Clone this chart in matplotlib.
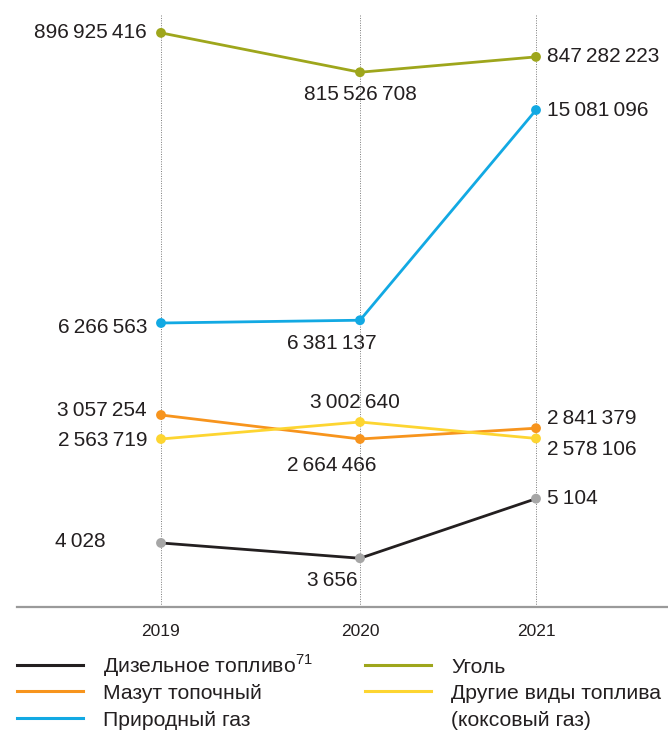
import matplotlib
matplotlib.use('Agg')
import matplotlib.pyplot as plt
import numpy as np

plt.rcParams['font.family'] = ['Liberation Sans', 'DejaVu Sans']
plt.rcParams['mathtext.fontset'] = 'custom'
plt.rcParams['mathtext.rm'] = 'Liberation Sans'

# Data: fuel consumption by type
years = ['2019', '2020', '2021']
coal = [896925416, 815526708, 847282223]
natural_gas = [6266563, 6381137, 15081096]
fuel_oil = [3057254, 2664466, 2841379]
other_fuel = [2563719, 3002640, 2578106]
diesel = [4028, 3656, 5104]

label_coal = ['Уголь']
label_gas = ['Природный газ']
label_oil = ['Мазут топочный']
label_other = ['Другие виды топлива', '(коксовый газ)']
label_diesel = ['Дизельное топливо$^{71}$']

# Canvas works in pixels, each series gets its own vertical band
W, H = 668, 732
col_x = np.array([161, 360, 536])

fig = plt.figure(figsize=(W / 100, H / 100), dpi=100)
ax = fig.add_axes([0, 0, 1, 1])
ax.set_xlim(0, W)
ax.set_ylim(H, 0)
ax.axis('off')


def band(values, ref_px, ref_val, px_per_unit):
    v = np.asarray(values, dtype=float)
    return ref_px - (v - ref_val) * px_per_unit


# series: values, colour, marker colour, band params, label offsets (points)
series = [
    (coal, '#9ea61c', '#9ea61c', (54, 853.24e6, 0.4836e-6),
     [(-10, 0, 'right', 'center'), (0, -9, 'center', 'top'), (8, 0, 'left', 'center')]),
    (natural_gas, '#12a9e3', '#12a9e3', (323, 6266563, 24.16e-6),
     [(-10, -3, 'right', 'center'), (-20, -10, 'center', 'top'), (8, 0, 'left', 'center')]),
    (fuel_oil, '#f7941d', '#f7941d', (415, 3057254, 61.1e-6),
     [(-10, 3, 'right', 'center'), (-20, -12, 'center', 'top'), (8, 7, 'left', 'center')]),
    (other_fuel, '#fdd531', '#fdd531', (439, 2563719, 38.7e-6),
     [(-10, -1, 'right', 'center'), (-4, 7, 'center', 'bottom'), (8, -8, 'left', 'center')]),
    (diesel, '#231f20', '#a6a6a6', (533.3, 4262.7, 0.04114),
     [(-40, 1, 'right', 'center'), (-2, -9, 'right', 'top'), (8, 0, 'left', 'center')]),
]

# Dotted guides for each year
for x in col_x:
    ax.plot([x, x], [15, 605], ls=(0, (1, 1.5)), color='#7a7a7a', lw=0.7, zorder=1)

# Baseline
ax.plot([17, W], [607, 607], color='#9a9a9a', lw=1.6, zorder=1)

for values, color, mcolor, (ref_px, ref_val, k), offsets in series:
    y = band(values, ref_px, ref_val, k)
    ax.plot(col_x, y, color=color, lw=2, zorder=3, solid_capstyle='round')
    ax.scatter(col_x, y, s=50, color=mcolor, zorder=4, edgecolors='none')
    for xi, yi, v, (dx, dy, ha, va) in zip(col_x, y, values, offsets):
        txt = f'{v:,}'.replace(',', '\u2009')
        ax.annotate(txt, (xi, yi), xytext=(dx, dy), textcoords='offset points',
                    ha=ha, va=va, fontsize=15, color='#231f20', zorder=5)

# Year labels
for x, yr in zip(col_x, years):
    ax.text(x, 632, yr, ha='center', va='center', fontsize=12.5, color='#231f20')

# Legend
legend_items = [
    (17, 665, '#231f20', label_diesel),
    (17, 691, '#f7941d', label_oil),
    (17, 718, '#12a9e3', label_gas),
    (365, 665, '#9ea61c', label_coal),
    (365, 691, '#fdd531', label_other),
]
for lx, ly, color, lines in legend_items:
    ax.plot([lx, lx + 66], [ly, ly], color=color, lw=2.2)
    for i, line in enumerate(lines):
        ax.text(lx + 86, ly + 8 + 27 * i, line, ha='left', va='baseline',
                fontsize=15.2, color='#231f20')

plt.savefig('out.png', dpi=100)
